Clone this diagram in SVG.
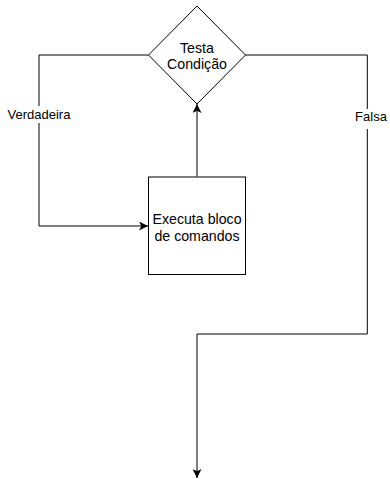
<svg xmlns="http://www.w3.org/2000/svg" width="390" height="479" viewBox="0 0 390 479">
<style>
.shape{fill:#fff;stroke:#000;stroke-width:1}
.edge{fill:none;stroke:#000;stroke-width:1}
.node-text{font-family:"Liberation Sans",Arial,sans-serif;font-size:14.2px;fill:#000;text-anchor:middle}
.label-text{font-family:"Liberation Sans",Arial,sans-serif;font-size:13px;fill:#000;text-anchor:middle}
.label-bg{fill:#fff;stroke:none}
</style>
<defs>
<marker id="arrow" markerUnits="userSpaceOnUse" markerWidth="9" markerHeight="9" viewBox="0 0 9 9" refX="9" refY="4.5" orient="auto">
<path d="M0,0 L9,4.5 L0,9 L2.3,4.5 Z" fill="#000"/>
</marker>
</defs>
<rect width="390" height="479" fill="#fff"/>
<g id="connectors">
<path class="edge" d="M148.5,55 H39 V226 H148" marker-end="url(#arrow)"/>
<path class="edge" d="M197,176.5 V104" marker-end="url(#arrow)"/>
<path class="edge" d="M245.5,55 H367.3 V334 H197 V478" marker-end="url(#arrow)"/>
<g id="label-verdadeira">
<rect class="label-bg" x="6" y="106" width="66" height="17"/>
<text class="label-text" x="39" y="119">Verdadeira</text>
</g>
<g id="label-falsa">
<rect class="label-bg" x="354" y="109" width="35" height="20"/>
<text class="label-text" x="371" y="121">Falsa</text>
</g>
</g>
<g id="node-condicao">
<path class="shape" d="M197,6 L245.5,55 L197,104 L148.5,55 Z"/>
<text class="node-text" x="197" y="52.5">Testa</text>
<text class="node-text" x="197" y="69">Condição</text>
</g>
<g id="node-bloco">
<rect class="shape" x="148.5" y="177" width="97" height="97.5"/>
<text class="node-text" x="197" y="224">Executa bloco</text>
<text class="node-text" x="197" y="240.5">de comandos</text>
</g>
</svg>
